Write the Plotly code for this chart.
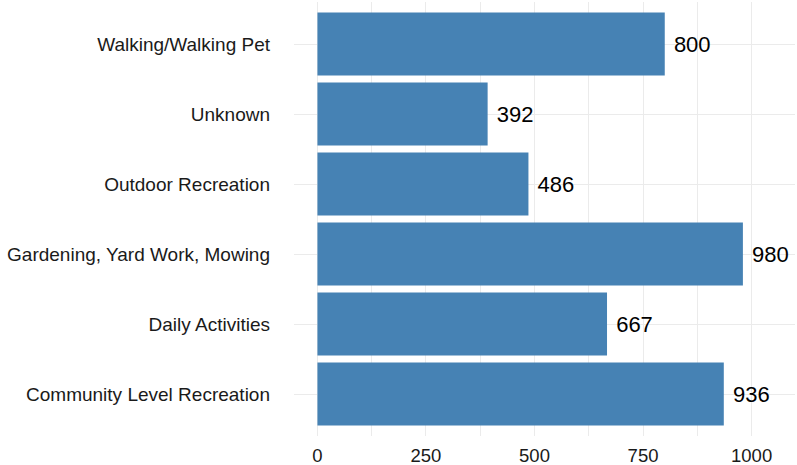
import plotly.graph_objects as go

categories = ["Community Level Recreation", "Daily Activities", "Gardening, Yard Work, Mowing",
              "Outdoor Recreation", "Unknown", "Walking/Walking Pet"]
values = [936, 667, 980, 486, 392, 800]
x_ticks = [0, 250, 500, 750, 1000]

fig = go.Figure(go.Bar(
    y=categories, x=values, orientation="h",
    marker=dict(color="#4682B4", line=dict(width=0)),
    width=0.9,
    text=[" " + str(v) for v in values], textposition="outside",
    textfont=dict(size=22, color="black", family="Liberation Sans, Arial"),
    cliponaxis=False,
))

fig.update_layout(
    width=797, height=465,
    margin=dict(l=294, r=2, t=1.6, b=28.8),
    plot_bgcolor="white", paper_bgcolor="white",
    font=dict(family="Liberation Sans, Arial", size=18, color="#1a1a1a"),
    showlegend=False,
    xaxis=dict(range=[-54, 1100], tickvals=x_ticks, showgrid=True, gridcolor="#EBEBEB",
               gridwidth=1.2, zeroline=False, showline=False, ticks="", automargin=False,
               minor=dict(tickvals=[125, 375, 625, 875], showgrid=True, gridcolor="#EBEBEB", gridwidth=0.6),
               tickfont=dict(size=18.5, color="#1a1a1a"), ticklabelstandoff=6),
    yaxis=dict(categoryorder="array", categoryarray=categories, range=[-0.6, 5.6],
               showgrid=True, gridcolor="#EBEBEB", gridwidth=1.2, zeroline=False, automargin=False,
               showline=False, ticks="", tickfont=dict(size=19, color="#1a1a1a"),
               ticklabelstandoff=23),
)

fig.write_html("out.html", config={"displayModeBar": False},
               post_script="document.body.style.margin='0';")
